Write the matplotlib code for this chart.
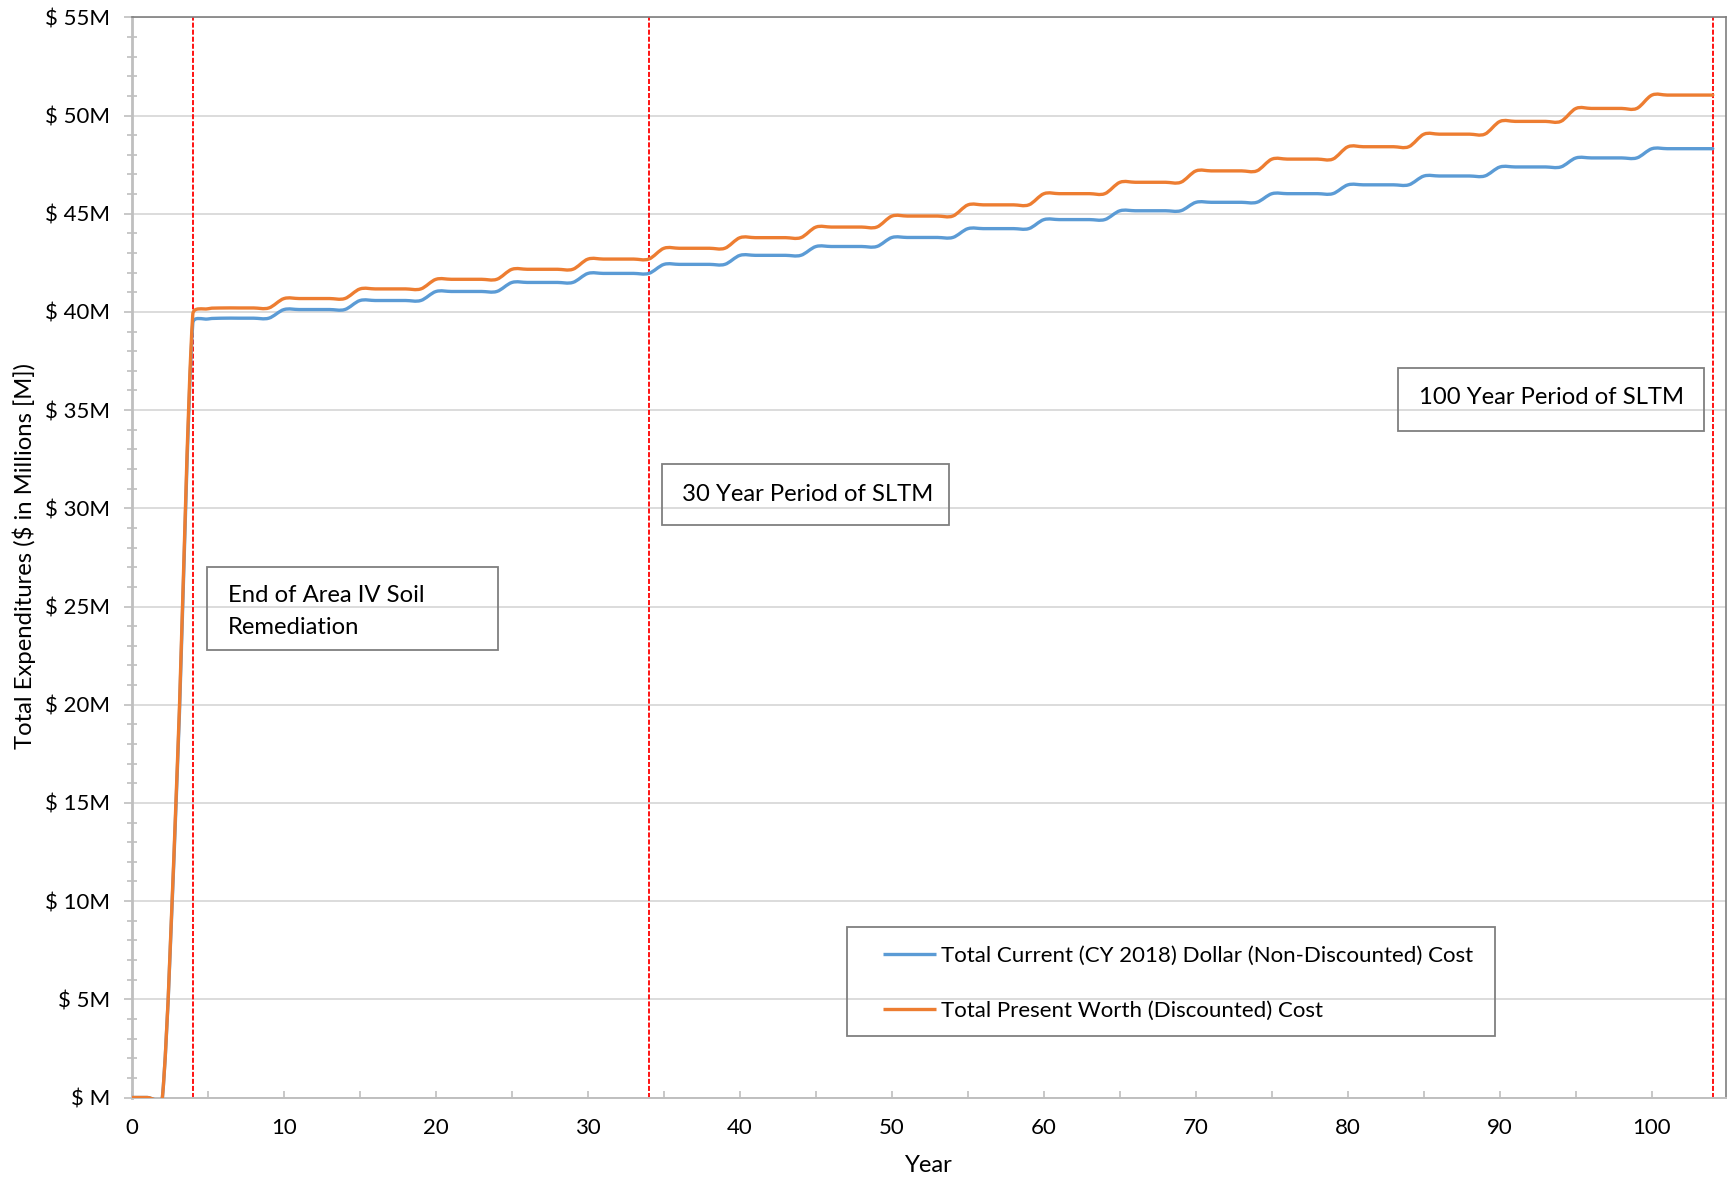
import numpy as np
import matplotlib
matplotlib.use("Agg")
import matplotlib.pyplot as plt
from matplotlib.path import Path
from matplotlib.patches import PathPatch, Rectangle
from matplotlib.lines import Line2D
from matplotlib.ticker import FixedLocator, FixedFormatter, MultipleLocator

# ---------------------------------------------------------------- data
years = list(range(0, 105))

# cumulative cost, $ millions
current_cost = [
    0.00, 0.00, 0.00, 17.00, 39.42, 39.64, 39.68, 39.68, 39.68, 39.68,
    40.12, 40.12, 40.12, 40.12, 40.12, 40.58, 40.58, 40.58, 40.58, 40.58,
    41.04, 41.04, 41.04, 41.04, 41.04, 41.50, 41.50, 41.50, 41.50, 41.50,
    41.96, 41.96, 41.96, 41.96, 41.96, 42.42, 42.42, 42.42, 42.42, 42.42,
    42.88, 42.88, 42.88, 42.88, 42.88, 43.33, 43.33, 43.33, 43.33, 43.33,
    43.79, 43.79, 43.79, 43.79, 43.79, 44.24, 44.24, 44.24, 44.24, 44.24,
    44.70, 44.70, 44.70, 44.70, 44.70, 45.15, 45.15, 45.15, 45.15, 45.15,
    45.58, 45.58, 45.58, 45.58, 45.58, 46.02, 46.02, 46.02, 46.02, 46.02,
    46.47, 46.47, 46.47, 46.47, 46.47, 46.92, 46.92, 46.92, 46.92, 46.92,
    47.38, 47.38, 47.38, 47.38, 47.38, 47.84, 47.84, 47.84, 47.84, 47.84,
    48.31, 48.31, 48.31, 48.31, 48.31,
]

present_worth_cost = [
    0.00, 0.00, 0.00, 17.30, 39.88, 40.16, 40.20, 40.20, 40.20, 40.20,
    40.68, 40.68, 40.68, 40.68, 40.68, 41.17, 41.17, 41.17, 41.17, 41.17,
    41.66, 41.66, 41.66, 41.66, 41.66, 42.17, 42.17, 42.17, 42.17, 42.17,
    42.69, 42.69, 42.69, 42.69, 42.69, 43.24, 43.24, 43.24, 43.24, 43.24,
    43.78, 43.78, 43.78, 43.78, 43.78, 44.32, 44.32, 44.32, 44.32, 44.32,
    44.88, 44.88, 44.88, 44.88, 44.88, 45.45, 45.45, 45.45, 45.45, 45.45,
    46.02, 46.02, 46.02, 46.02, 46.02, 46.60, 46.60, 46.60, 46.60, 46.60,
    47.18, 47.18, 47.18, 47.18, 47.18, 47.78, 47.78, 47.78, 47.78, 47.78,
    48.41, 48.41, 48.41, 48.41, 48.41, 49.05, 49.05, 49.05, 49.05, 49.05,
    49.70, 49.70, 49.70, 49.70, 49.70, 50.36, 50.36, 50.36, 50.36, 50.36,
    51.04, 51.04, 51.04, 51.04, 51.04,
]

series_labels = [
    "Total Current (CY 2018) Dollar (Non-Discounted) Cost",
    "Total Present Worth (Discounted) Cost",
]

milestone_years = [4, 34, 104]
milestone_notes = [
    "End of Area IV Soil\nRemediation",
    "30 Year Period of SLTM",
    "100 Year Period of SLTM",
]

y_tick_values = [0, 5, 10, 15, 20, 25, 30, 35, 40, 45, 50, 55]
y_tick_labels = ["$ M", "$ 5M", "$ 10M", "$ 15M", "$ 20M", "$ 25M",
                 "$ 30M", "$ 35M", "$ 40M", "$ 45M", "$ 50M", "$ 55M"]
x_tick_values = [0, 10, 20, 30, 40, 50, 60, 70, 80, 90, 100]
x_tick_labels = ["0", "10", "20", "30", "40", "50", "60", "70", "80", "90", "100"]

# ---------------------------------------------------------------- style
FONT = "Lato"
plt.rcParams["font.family"] = [FONT, "DejaVu Sans"]
TEXT_SIZE = 17.2
LEGEND_SIZE = 16.0
TICK_SIZE = 16.0
BLUE = "#5B9BD5"
ORANGE = "#ED7D31"
AXIS_GREY = "#BFBFBF"
GRID_GREY = "#D9D9D9"
BORDER_GREY = "#7F7F7F"

W, H = 1727, 1178
fig = plt.figure(figsize=(W / 100, H / 100), dpi=100)


def fx(px):
    return px / W


def fy(py):
    return 1 - py / H


ax = fig.add_axes([fx(132), fy(1097.5), (1726 - 132) / W, (1097.5 - 17.3) / H])
ax.set_xlim(0, 104.87)
ax.set_ylim(0, 55)


def smoothed_path(xs, ys):
    """Bezier path through the points, with spreadsheet-style smoothing
    (tangent from neighbours, arm length capped at half the segment)."""
    P = ax.transData.transform(np.column_stack([xs, ys]))
    n = len(P)
    verts = [P[0]]
    codes = [Path.MOVETO]
    for i in range(n - 1):
        p0 = P[i - 1] if i > 0 else P[i]
        p1 = P[i]
        p2 = P[i + 1]
        p3 = P[i + 2] if i + 2 < n else P[i + 1]
        d02 = np.hypot(*(p2 - p0))
        d12 = np.hypot(*(p2 - p1))
        d13 = np.hypot(*(p3 - p1))
        f1 = 1 / 6
        f2 = 1 / 6
        if d02 > 0 and d02 / 6 > d12 / 2:
            f1 = d12 / (2 * d02)
        if d13 > 0 and d13 / 6 > d12 / 2:
            f2 = d12 / (2 * d13)
        c1 = p1 + (p2 - p0) * f1
        c2 = p2 - (p3 - p1) * f2
        verts += [c1, c2, p2]
        codes += [Path.CURVE4] * 3
    data_verts = ax.transData.inverted().transform(np.array(verts))
    return Path(data_verts, codes)


# gridlines
ax.set_axisbelow(True)
ax.yaxis.grid(True, which="major", color=GRID_GREY, lw=1.3)
ax.xaxis.grid(False)

# milestone markers
for yr in milestone_years:
    ax.axvline(yr, color="#FF0000", lw=1.3, linestyle=(0, (2.8, 1.1)), zorder=2)

# cost curves
for vals, color in [(current_cost, BLUE), (present_worth_cost, ORANGE)]:
    patch = PathPatch(smoothed_path(years, vals), fill=False, edgecolor=color,
                      lw=2.4, capstyle="round", joinstyle="round", zorder=3,
                      transform=ax.transData)
    ax.add_patch(patch)

# spines
for side in ["left", "bottom"]:
    ax.spines[side].set_color(AXIS_GREY)
ax.spines["left"].set_linewidth(2.0)
ax.spines["bottom"].set_linewidth(1.4)
for side in ["top", "right"]:
    ax.spines[side].set_color(BORDER_GREY)
    ax.spines[side].set_linewidth(1.2)

# y axis ticks
ax.yaxis.set_major_locator(FixedLocator(y_tick_values))
ax.yaxis.set_major_formatter(FixedFormatter(y_tick_labels))
ax.yaxis.set_minor_locator(MultipleLocator(1))
ax.tick_params(axis="y", which="major", direction="out", length=5.5, width=1.2,
               color=AXIS_GREY, pad=10, labelsize=TICK_SIZE, labelcolor="black")
ax.tick_params(axis="y", which="minor", direction="inout", length=7.7, width=1.2,
               color=AXIS_GREY)

# x axis ticks
ax.xaxis.set_major_locator(FixedLocator(x_tick_values))
ax.xaxis.set_major_formatter(FixedFormatter(x_tick_labels))
ax.xaxis.set_minor_locator(MultipleLocator(5))
ax.tick_params(axis="x", which="both", direction="in", length=5, width=1.2,
               color=AXIS_GREY, top=False)
ax.tick_params(axis="x", which="major", pad=15, labelsize=TICK_SIZE,
               labelcolor="black")

# axis titles
ax.set_xlabel("Year", fontsize=TEXT_SIZE, va="center", ha="center")
ax.xaxis.set_label_coords(0.4994, (1097.5 - 1165) / 1080.2)
ax.set_ylabel("Total Expenditures ($ in Millions [M])", fontsize=TEXT_SIZE,
              va="center", ha="center")
ax.yaxis.set_label_coords((24 - 132) / 1594, (1097.5 - 556) / 1080.2)


# annotation boxes
def note_box(x0, y0, x1, y1):
    fig.add_artist(Rectangle((fx(x0), fy(y1)), fx(x1) - fx(x0), fy(y0) - fy(y1),
                             transform=fig.transFigure, fill=False,
                             edgecolor=BORDER_GREY, lw=1.3))


note_box(207, 567, 498, 650)
first_lines = milestone_notes[0].split("\n")
fig.text(fx(228), fy(602), first_lines[0], fontsize=TEXT_SIZE, va="baseline")
fig.text(fx(228), fy(634), first_lines[1], fontsize=TEXT_SIZE, va="baseline")

note_box(662, 464, 949, 525)
fig.text(fx(682), fy(501), milestone_notes[1], fontsize=TEXT_SIZE, va="baseline")

note_box(1398, 368, 1704, 431)
fig.text(fx(1419), fy(404), milestone_notes[2], fontsize=TEXT_SIZE, va="baseline")

# legend
note_box(847, 927, 1495, 1036)
for row_y, color, label in [(954, BLUE, series_labels[0]),
                            (1009, ORANGE, series_labels[1])]:
    fig.add_artist(Line2D([fx(883), fx(936)], [fy(row_y), fy(row_y)],
                          transform=fig.transFigure, color=color, lw=2.4,
                          solid_capstyle="butt"))
    fig.text(fx(941), fy(row_y), label, fontsize=LEGEND_SIZE, va="center_baseline")

fig.savefig("out.png", dpi=100, facecolor="white")
